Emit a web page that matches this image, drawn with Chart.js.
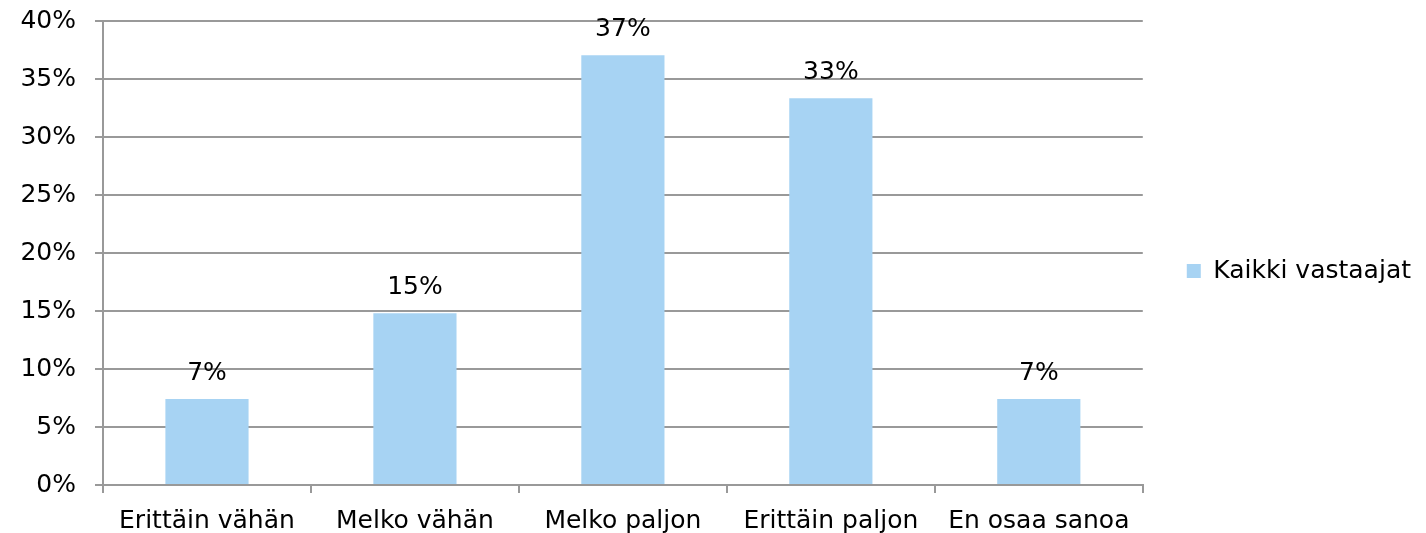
<!DOCTYPE html>
<html>
<head>
<meta charset="utf-8">
<script src="https://cdn.jsdelivr.net/npm/chart.js@4/dist/chart.umd.min.js"></script>
<style>
    body { margin: 0; background: #fff; }
    #wrap { width: 1426px; height: 533px; }
</style>
</head>
<body>
<div id="wrap"><canvas id="bar_chart"></canvas></div>
<script>
var categories = ["Erittäin vähän", "Melko vähän", "Melko paljon", "Erittäin paljon", "En osaa sanoa"];
var seriesName = "Kaikki vastaajat";
var values = [7.41, 14.81, 37.04, 33.33, 7.41];
var yTicks = [0, 5, 10, 15, 20, 25, 30, 35, 40];

var FONT = "'DejaVu Sans', Verdana, sans-serif";
var GRID = '#999999';

// value labels above the bars
var barLabels = {
    id: 'barLabels',
    afterDatasetsDraw: function (chart) {
        var ctx = chart.ctx;
        ctx.save();
        ctx.font = '25px ' + FONT;
        ctx.fillStyle = '#000';
        ctx.textAlign = 'center';
        ctx.textBaseline = 'bottom';
        chart.getDatasetMeta(0).data.forEach(function (bar, i) {
            ctx.fillText(Math.round(values[i]) + '%', bar.x, bar.y - 13);
        });
        ctx.restore();
    }
};

new Chart(document.getElementById("bar_chart").getContext("2d"), {
    type: 'bar',
    data: {
        labels: categories,
        datasets: [{
            label: seriesName,
            data: values,
            backgroundColor: '#a7d3f3',
            categoryPercentage: 1,
            barPercentage: 0.4
        }]
    },
    options: {
        responsive: true,
        maintainAspectRatio: false,
        animation: false,
        layout: { padding: { top: 9, right: 5, bottom: 0, left: 0 } },
        plugins: {
            tooltip: { enabled: false },
            legend: {
                position: 'right',
                labels: {
                    boxWidth: 14,
                    boxHeight: 14,
                    padding: 44,
                    color: '#000',
                    font: { family: FONT, size: 25 }
                }
            }
        },
        scales: {
            x: {
                offset: true,
                grid: { offset: true, drawOnChartArea: false, drawTicks: true, tickLength: 8, color: GRID, lineWidth: 2 },
                border: { display: true, color: GRID, width: 2 },
                ticks: { color: '#000', font: { family: FONT, size: 25 }, padding: 13, maxRotation: 0, autoSkip: false },
                afterFit: function (s) { s.height = 48; }
            },
            y: {
                min: 0,
                max: 40,
                afterBuildTicks: function (s) { s.ticks = yTicks.map(function (v) { return { value: v }; }); },
                grid: { color: GRID, lineWidth: 2, tickLength: 8 },
                border: { display: true, color: GRID, width: 2 },
                ticks: {
                    color: '#000',
                    font: { family: FONT, size: 25 },
                    padding: 19,
                    callback: function (v) { return v + '%'; }
                },
                afterFit: function (s) {
                    s.width = 103;
                    s.paddingTop = 21;
                    s.paddingBottom = 0;
                }
            }
        }
    },
    plugins: [barLabels]
});
</script>
</body>
</html>
